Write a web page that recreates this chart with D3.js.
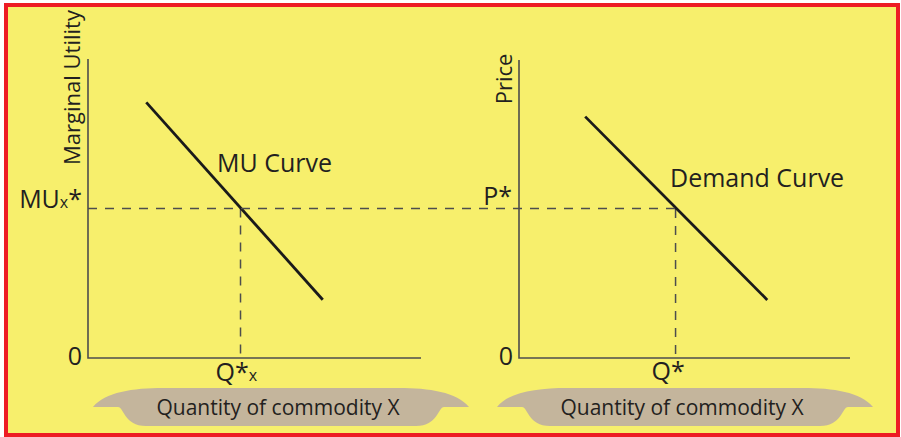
<!DOCTYPE html>
<html lang="en">
<head>
    <meta charset="UTF-8">
    <title>MU Curve and Demand Curve</title>
    <script src="https://d3js.org/d3.v7.min.js"></script>
    <style>
        body { margin: 0; background: #fff; }
        svg { display: block; }
        text { font-family: "Open Sans", sans-serif; fill: #231f20; }
        .axis-label { font-size: 22px; }
        .curve-label { font-size: 25px; }
        .tick-label { font-size: 25px; }
        .banner-label { font-size: 21px; }
    </style>
</head>
<body>
    <svg id="chart"></svg>
    <script>
        // panel definitions
        const panels = ["mu", "demand"];
        const yAxisTitles = ["Marginal Utility", "Price"];
        const xAxisTitle = "Quantity of commodity X";
        const curveNames = ["MU Curve", "Demand Curve"];

        // curve end points (quantity, value)
        const muCurve = [[1.75, 8.55], [7.05, 1.95]];
        const demandCurve = [[2.0, 8.1], [7.5, 1.95]];

        // equilibrium
        const qStar = [4.58, 4.73];
        const vStar = 5.0;

        const width = 901, height = 437;
        const svg = d3.select("#chart").attr("width", width).attr("height", height);

        // background and frame
        svg.append("rect")
            .attr("x", 6).attr("y", 5)
            .attr("width", 892).attr("height", 430)
            .attr("fill", "#f7ef6c")
            .attr("stroke", "#ed1c24")
            .attr("stroke-width", 4);

        const xScales = [
            d3.scaleLinear().domain([0, 10]).range([88, 421]),
            d3.scaleLinear().domain([0, 10]).range([519, 850])
        ];
        const yScales = [
            d3.scaleLinear().domain([0, 10]).range([358, 59]),
            d3.scaleLinear().domain([0, 10]).range([358, 60])
        ];

        const curves = [muCurve, demandCurve];

        // banners under each x axis
        function bannerPath(cx) {
            const tipL = cx - 188, tipR = cx + 188;
            const bodyL = cx - 157, bodyR = cx + 157;
            const top = 388, wing = 407, bottom = 426;
            return `M${tipL},${wing}` +
                ` C${tipL + 12},${top + 4} ${tipL + 40},${top} ${tipL + 70},${top}` +
                ` L${tipR - 70},${top}` +
                ` C${tipR - 40},${top} ${tipR - 12},${top + 4} ${tipR},${wing}` +
                ` L${bodyR + 6},${wing}` +
                ` C${bodyR},${wing} ${bodyR},${bottom} ${bodyR - 22},${bottom}` +
                ` L${bodyL + 22},${bottom}` +
                ` C${bodyL},${bottom} ${bodyL},${wing} ${bodyL - 6},${wing} Z`;
        }

        panels.forEach((p, i) => {
            const x = xScales[i], y = yScales[i];
            const g = svg.append("g").attr("class", p);

            const cx = i === 0 ? 281 : 685;
            g.append("path")
                .attr("d", bannerPath(cx))
                .attr("fill", "#c4b59c");
            g.append("text")
                .attr("class", "banner-label")
                .attr("x", cx - 3)
                .attr("y", 415)
                .attr("text-anchor", "middle")
                .text(xAxisTitle);

            // axes
            g.append("path")
                .attr("d", `M${x(0)},${y(10)} L${x(0)},${y(0)} L${x(10)},${y(0)}`)
                .attr("fill", "none")
                .attr("stroke", "#4d4d4d")
                .attr("stroke-width", 1.6);

            // y axis title
            const titleY = i === 0 ? 87.5 : 79;
            const titleX = i === 0 ? x(0) - 8 : x(0) - 7;
            g.append("text")
                .attr("class", "axis-label")
                .attr("font-size", i === 0 ? "22px" : "24px")
                .attr("transform", `translate(${titleX},${titleY}) rotate(-90)`)
                .attr("text-anchor", "middle")
                .text(yAxisTitles[i]);

            // vertical dashed line from equilibrium
            g.append("line")
                .attr("x1", x(qStar[i])).attr("x2", x(qStar[i]))
                .attr("y1", y(vStar)).attr("y2", y(0))
                .attr("stroke", "#4d4d4d")
                .attr("stroke-width", 1.5)
                .attr("stroke-dasharray", "9,8");

            // curve
            g.append("path")
                .datum(curves[i])
                .attr("d", d3.line().x(d => x(d[0])).y(d => y(d[1])))
                .attr("fill", "none")
                .attr("stroke", "#1a1a1a")
                .attr("stroke-width", 2.8);

            // origin
            g.append("text")
                .attr("class", "tick-label")
                .attr("x", x(0) - 6)
                .attr("y", y(0) + 7)
                .attr("text-anchor", "end")
                .text("0");
        });

        // horizontal dashed line across both panels
        svg.append("line")
            .attr("x1", xScales[0](0)).attr("x2", xScales[1](qStar[1]))
            .attr("y1", yScales[0](vStar)).attr("y2", yScales[0](vStar))
            .attr("stroke", "#4d4d4d")
            .attr("stroke-width", 1.5)
            .attr("stroke-dasharray", "9,8");

        // MU_x* label
        const mu = svg.append("text")
            .attr("class", "tick-label")
            .attr("x", xScales[0](0) - 6)
            .attr("y", yScales[0](vStar) - 1)
            .attr("text-anchor", "end");
        mu.append("tspan").text("MU");
        mu.append("tspan").attr("font-size", "16px").text("x");
        mu.append("tspan").text("*");

        // P* label
        svg.append("text")
            .attr("class", "tick-label")
            .attr("x", xScales[1](0) - 7)
            .attr("y", yScales[1](vStar) - 4)
            .attr("text-anchor", "end")
            .text("P*");

        // Q*x label
        const q1 = svg.append("text")
            .attr("class", "tick-label")
            .attr("x", xScales[0](qStar[0]) - 25)
            .attr("y", 381);
        q1.append("tspan").text("Q*");
        q1.append("tspan").attr("font-size", "16px").text("x");

        // Q* label
        svg.append("text")
            .attr("class", "tick-label")
            .attr("x", xScales[1](qStar[1]) - 24)
            .attr("y", 380)
            .text("Q*");

        // curve names
        svg.append("text")
            .attr("class", "curve-label")
            .attr("x", 217).attr("y", 172)
            .text(curveNames[0]);
        svg.append("text")
            .attr("class", "curve-label")
            .attr("x", 670).attr("y", 187)
            .text(curveNames[1]);
    </script>
</body>
</html>
